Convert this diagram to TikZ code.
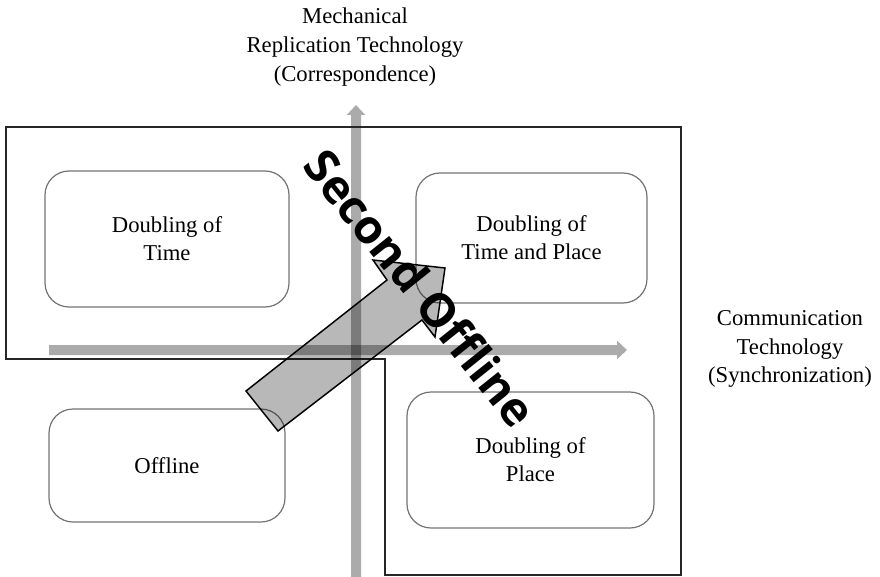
\documentclass[tikz,border=0pt]{standalone}
\usepackage{fontspec}
\setmainfont{Liberation Serif}
\newfontfamily\bigsans{Open Sans}
\usetikzlibrary{arrows.meta}
\begin{document}
\begin{tikzpicture}[x=0.75pt,y=-0.75pt,
  quad/.style={draw=black!55, line width=0.9pt, rounded corners=18pt, inner sep=0pt,
    align=center, font=\fontsize{17}{21}\selectfont},
  lab/.style={align=center, font=\fontsize{17}{21.5}\selectfont},
  axisline/.style={draw=black, line width=7.5pt,
    -{Triangle[length=7.5pt,width=13.5pt]}},
  axisgroup/.style={transparency group, opacity=0.33},
  outline/.style={draw=black!85, line width=1.1pt},
]
\useasboundingbox (0,0) rectangle (880,577);

% axes
\coordinate (vb) at (356,577);
\coordinate (vt) at (356,105);
\coordinate (hl) at (49,350);
\coordinate (hr) at (627,350);
\begin{scope}[axisgroup]
\draw[axisline] (vb) -- (vt);
\end{scope}
\begin{scope}[axisgroup]
\draw[axisline] (hl) -- (hr);
\end{scope}

% outline region
\draw[outline] (6,127) -- (681,127) -- (681,575) -- (385,575) -- (385,359) -- (6,359) -- cycle;

% quadrant boxes
\node[quad, minimum width=183pt, minimum height=102pt] (time) at (167,239) {Doubling of\\Time};
\node[quad, minimum width=173.25pt, minimum height=97.5pt] (timeplace) at (531.5,238) {Doubling of\\Time and Place};
\node[quad, minimum width=177pt, minimum height=84.75pt] (offline) at (167,465.5) {Offline};
\node[quad, minimum width=185.25pt, minimum height=102pt] (place) at (530.5,460) {Doubling of\\Place};

% big arrow
\coordinate (a1) at (246,391);
\coordinate (a2) at (387,280);
\coordinate (a3) at (373,260);
\coordinate (a4) at (445,268);
\coordinate (a5) at (435,337);
\coordinate (a6) at (422,320);
\coordinate (a7) at (278,431);
\fill[black, fill opacity=0.28] (a1) -- (a2) -- (a3) -- (a4) -- (a5) -- (a6) -- (a7) -- cycle;
\draw[line width=1.1pt, line join=miter] (a1) -- (a2) -- (a3) -- (a4) -- (a5) -- (a6) -- (a7) -- cycle;

% axis labels
\node[lab] (ylab) at (355,47) {Mechanical\\Replication Technology\\(Correspondence)};
\node[lab] (xlab) at (790,349) {Communication\\Technology\\(Synchronization)};

% rotated title
\node[rotate=-51.3, inner sep=0pt, font=\bigsans\bfseries\fontsize{35}{35}\selectfont] (second) at (421,288) {Second Offline};
\end{tikzpicture}
\end{document}
